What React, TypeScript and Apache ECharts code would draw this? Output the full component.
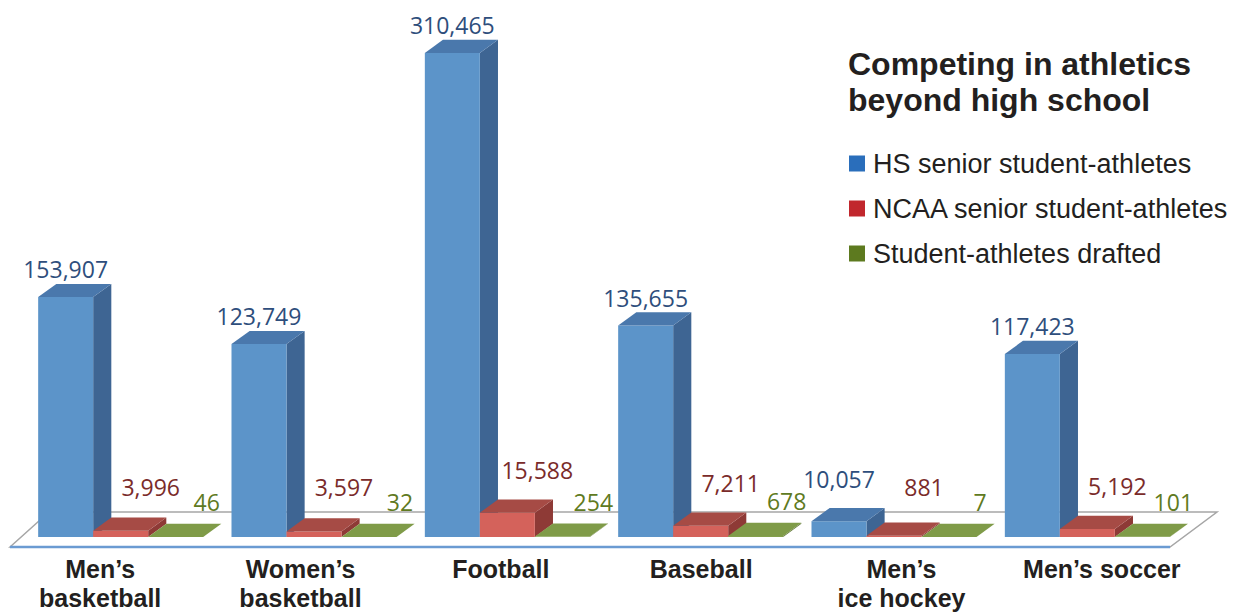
import React, { useEffect, useRef } from "react";
import * as echarts from "echarts";

const categories = ["Men’s\nbasketball", "Women’s\nbasketball", "Football", "Baseball", "Men’s\nice hockey", "Men’s soccer"];
const seriesNames = ["HS senior student-athletes", "NCAA senior student-athletes", "Student-athletes drafted"];
const hsSeniors = [153907, 123749, 310465, 135655, 10057, 117423];
const ncaaSeniors = [3996, 3597, 15588, 7211, 881, 5192];
const drafted = [46, 32, 254, 678, 7, 101];
const seriesValues = [hsSeniors, ncaaSeniors, drafted];

const legendColors = ["#2a6ebb", "#c1272d", "#5d7a1f"];
const faceColors = [
  { front: "#5c94c9", side: "#3e6593", top: "#4a78ac", label: "#2e4e7c" },
  { front: "#d4625b", side: "#8e3a36", top: "#a64b45", label: "#7a2b2a" },
  { front: "#84a04c", side: "#5f7535", top: "#7f9b48", label: "#5f7a22" },
];
const labelShift = [
  { dx: 0, dy: 28, minAbove: 58 },
  { dx: 30, dy: 43, minAbove: 50 },
  { dx: 31, dy: 35, minAbove: 35 },
];

function makeRender(k: number) {
  return (params: any, api: any) => {
    const ci = api.value(0);
    const v = api.value(1);
    const base = api.coord([ci, 0]);
    const top = api.coord([ci, v]);
    const band = api.size([1, 0])[0];
    const w = band * 0.2845;
    const dx = w * 0.33;
    const dy = w * 0.24;
    const x0 = base[0] - 1.5 * w + k * w;
    const x1 = x0 + w;
    const yb = base[1];
    const yt = top[1];
    const c = faceColors[k];
    const ly = Math.min(yt - labelShift[k].dy, yb - labelShift[k].minAbove);
    return {
      type: "group",
      children: [
        {
          type: "polygon",
          shape: { points: [[x1, yb], [x1 + dx, yb - dy], [x1 + dx, yt - dy], [x1, yt]] },
          style: { fill: c.side },
        },
        {
          type: "rect",
          shape: { x: x0, y: yt, width: w, height: Math.max(yb - yt, 0) },
          style: { fill: c.front },
        },
        {
          type: "polygon",
          shape: { points: [[x0, yt], [x0 + dx, yt - dy], [x1 + dx, yt - dy], [x1, yt]] },
          style: { fill: c.top },
        },
        {
          type: "text",
          style: {
            text: Number(v).toLocaleString("en-US"),
            x: x0 + w / 2 + labelShift[k].dx,
            y: ly,
            align: "center",
            verticalAlign: "middle",
            fontFamily: "Open Sans",
            fontSize: 23,
            fill: c.label,
          },
        },
      ],
    };
  };
}

export default function App() {
  const ref = useRef<HTMLDivElement>(null);
  useEffect(() => {
    if (!ref.current) return;
    const chart = echarts.init(ref.current, undefined, { renderer: "svg" });
    chart.setOption({
      animation: false,
      backgroundColor: "#ffffff",
      title: {
        text: "Competing in athletics\nbeyond high school",
        left: 848,
        top: 46,
        padding: 0,
        textStyle: {
          fontFamily: "Liberation Sans",
          fontWeight: "bold",
          fontSize: 32,
          lineHeight: 36,
          color: "#231f20",
        },
      },
      legend: {
        orient: "vertical",
        left: 849,
        top: 150,
        padding: 0,
        itemWidth: 16,
        itemHeight: 16,
        itemGap: 18,
        icon: "rect",
        textStyle: { fontFamily: "Liberation Sans", fontSize: 27, lineHeight: 27, color: "#231f20", padding: [0, 0, 0, 3] },
        data: seriesNames.map((n, i) => ({ name: n, itemStyle: { color: legendColors[i] } })),
        selectedMode: false,
      },
      grid: [
        { left: 24, width: 1160, top: 7, bottom: 77 },
        { left: 0, width: 1202, top: 7, bottom: 77 },
      ],
      xAxis: [
        { type: "category", gridIndex: 0, data: categories, show: false },
        {
          type: "category",
          gridIndex: 1,
          data: categories,
          axisLine: { show: false },
          axisTick: { show: false },
          axisLabel: {
            margin: 17,
            fontFamily: "Liberation Sans",
            fontWeight: "bold",
            fontSize: 25,
            lineHeight: 29,
            color: "#231f20",
            interval: 0,
          },
        },
      ],
      yAxis: [
        { type: "value", gridIndex: 0, min: 0, max: 340000, show: false },
        { type: "value", gridIndex: 1, min: 0, max: 340000, show: false },
      ],
      graphic: [
        {
          type: "polygon",
          z: 0,
          shape: { points: [[10, 547], [49, 512], [1217, 512], [1170, 547]] },
          style: { fill: "#ffffff", stroke: "#a6a6a6", lineWidth: 1.5 },
        },
        {
          type: "line",
          z: 0,
          shape: { x1: 10, y1: 547, x2: 1170, y2: 547 },
          style: { stroke: "#6b9bd2", lineWidth: 2.5 },
        },
      ],
      series: seriesValues.map((vals, k) => ({
        type: "custom",
        name: seriesNames[k],
        xAxisIndex: 0,
        yAxisIndex: 0,
        itemStyle: { color: legendColors[k] },
        renderItem: makeRender(k),
        encode: { x: 0, y: 1 },
        data: vals.map((v, i) => [i, v]),
        clip: false,
      })),
    });
    return () => chart.dispose();
  }, []);
  return <div ref={ref} style={{ position: "fixed", left: 0, top: 0, width: 1236, height: 614 }} />;
}
